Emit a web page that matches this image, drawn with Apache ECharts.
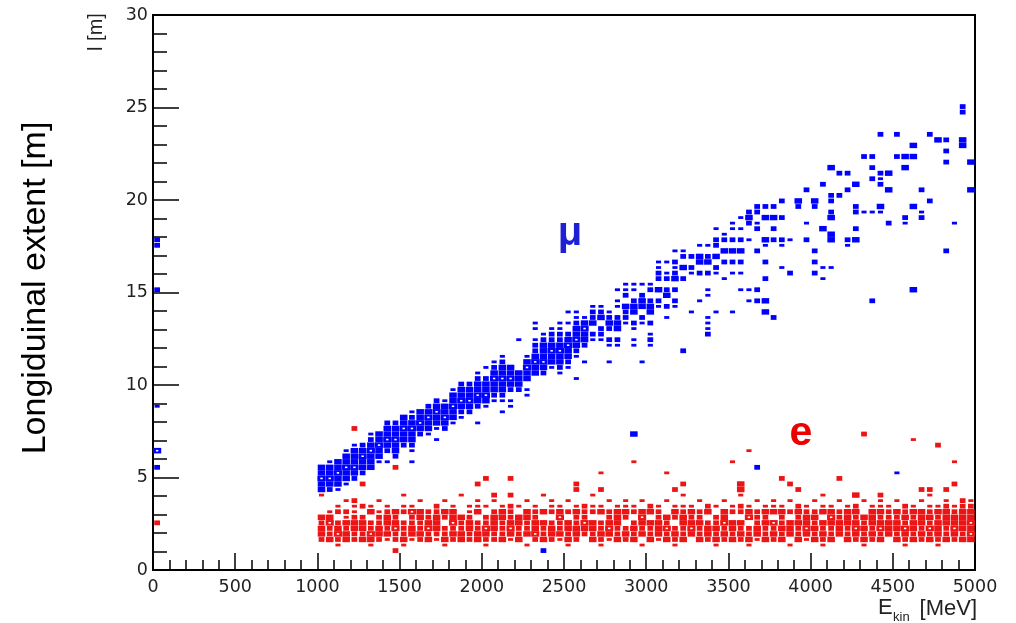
<!DOCTYPE html>
<html>
<head>
<meta charset="utf-8">
<script src="https://cdn.jsdelivr.net/npm/echarts@6/dist/echarts.min.js"></script>
<style>
  html, body { margin: 0; padding: 0; background: #fff; }
  #chart { width: 1016px; height: 623px; }
</style>
</head>
<body>
<div id="chart"></div>
<script>
// Histogram binning: 50 MeV in kinetic energy, 0.3 m in longitudinal extent
const E_BIN = 50;
const L_BIN = 0.3;

// Axis tick values
const energyTicks = [0, 500, 1000, 1500, 2000, 2500, 3000, 3500, 4000, 4500, 5000];
const lengthTicks = [0, 5, 10, 15, 20, 25, 30];

// Muon cells per energy column: [energy bin, first length bin, counts per length bin]
const muonColumns = [
  [20, 14, "33433"],
  [21, 14, "234331"],
  [22, 14, "133433"],
  [23, 15, "1334331"],
  [24, 16, "2343331"],
  [25, 17, "233432"],
  [26, 18, "3334321"],
  [27, 19, "133433"],
  [28, 19, "10234332"],
  [29, 20, "2334332"],
  [30, 22, "233433"],
  [31, 19, "1012334321"],
  [32, 24, "23433"],
  [33, 24, "133432"],
  [34, 23, "10133432"],
  [35, 25, "234331"],
  [36, 26, "1334331"],
  [37, 27, "1234332"],
  [38, 28, "234332"],
  [39, 26, "1002343321"],
  [40, 29, "13433201"],
  [41, 30, "12334321"],
  [42, 28, "10123343321"],
  [43, 29, "11023433"],
  [44, 32, "2333000001"],
  [45, 31, "11033431"],
  [46, 35, "3343221011"],
  [47, 35, "23433321"],
  [48, 36, "13343221"],
  [49, 35, "1233432211"],
  [50, 36, "12334320101"],
  [51, 34, "1000123433211"],
  [52, 37, "100233431"],
  [53, 41, "1203221"],
  [54, 41, "1220321"],
  [55, 37, "1001202321"],
  [56, 40, "12033201101"],
  [57, 44, "12230211"],
  [58, 40, "110120332011"],
  [59, 37, "100000012033201"],
  [60, 40, "121020332021"],
  [61, 47, "120302211"],
  [62, 45, "10203202101"],
  [63, 47, "12020321201"],
  [64, 52, "203021"],
  [65, 46, "10000001202"],
  [66, 48, "10000203301"],
  [67, 43, "1110001100203201"],
  [68, 46, "1000000120302201"],
  [69, 52, "100203021"],
  [70, 46, "10000001020302011"],
  [71, 50, "10010203020101"],
  [72, 48, "10100000000100232"]
];

// Isolated muon cells: [E (MeV), l (m), count]
const muonPoints = [
  [25, 17.9, 2], [25, 17.4, 2], [25, 15.0, 2], [25, 8.9, 1], [25, 6.4, 4], [25, 5.5, 2],
  [2925, 7.3, 3], [3675, 5.5, 2], [4515, 5.2, 1], [2385, 0.95, 2], [3225, 11.9, 2], [3370, 12.7, 2],
  [3670, 19.6, 2], [3670, 19.4, 2], [3670, 18.7, 1], [3670, 18.4, 2], [3670, 17.2, 2], [3670, 15.1, 2], [3670, 14.5, 2],
  [3720, 19.6, 2], [3720, 19.0, 3], [3720, 17.8, 3], [3720, 17.5, 1], [3720, 16.6, 2], [3720, 15.7, 2], [3720, 14.5, 3], [3720, 13.9, 3],
  [3770, 19.6, 2], [3770, 19.0, 3], [3770, 18.4, 2], [3770, 17.8, 2], [3770, 13.7, 2],
  [3820, 20.0, 2], [3820, 19.0, 2], [3820, 17.8, 2], [3820, 17.5, 1], [3820, 16.3, 1],
  [3870, 17.8, 1], [3870, 16.0, 2],
  [3920, 20.0, 3], [3920, 19.6, 2],
  [3965, 20.6, 2], [3965, 18.7, 1], [3965, 17.8, 2],
  [4025, 20.0, 3], [4025, 19.6, 2], [4025, 17.2, 2], [4025, 16.6, 2], [4025, 16.0, 2],
  [4070, 20.9, 2], [4070, 18.4, 3], [4070, 16.3, 1], [4070, 15.7, 1],
  [4115, 21.8, 3], [4115, 20.3, 2], [4115, 20.0, 2], [4115, 19.3, 2], [4115, 19.0, 3], [4115, 18.1, 3], [4115, 17.8, 3], [4115, 16.3, 1],
  [4165, 21.4, 2], [4165, 20.3, 2],
  [4215, 21.4, 2], [4215, 20.6, 2], [4215, 17.8, 2], [4215, 17.5, 1],
  [4270, 20.9, 3], [4270, 19.6, 2], [4270, 19.3, 2], [4270, 18.4, 2], [4270, 17.8, 3],
  [4320, 22.4, 2], [4320, 19.3, 1],
  [4370, 22.4, 2], [4370, 21.8, 2], [4370, 21.2, 2], [4370, 19.3, 1], [4370, 14.5, 2],
  [4420, 23.6, 2], [4420, 21.5, 2], [4420, 21.2, 1], [4420, 20.9, 2], [4420, 19.6, 3], [4420, 19.3, 1],
  [4470, 21.4, 3], [4470, 20.6, 3], [4470, 18.7, 2],
  [4520, 23.6, 2], [4520, 22.4, 2],
  [4570, 22.4, 3], [4570, 21.8, 3], [4570, 19.0, 2], [4570, 18.7, 1],
  [4620, 23.0, 3], [4620, 22.4, 3], [4620, 19.6, 3], [4620, 15.1, 3],
  [4665, 20.6, 2], [4665, 19.2, 1], [4665, 19.0, 2],
  [4720, 23.6, 2], [4720, 20.0, 2],
  [4765, 23.2, 3],
  [4815, 23.1, 2], [4815, 22.6, 2], [4815, 22.0, 2], [4815, 17.2, 2],
  [4865, 18.7, 1],
  [4918, 25.0, 2], [4918, 24.7, 2], [4918, 23.1, 3], [4918, 22.9, 3],
  [4965, 22.0, 3], [4965, 20.6, 3]
];

// Electron cells: one string per energy column from 1000 MeV, counts from l = 1.2 m upwards
const ELECTRON_FIRST_E_BIN = 20;
const ELECTRON_FIRST_L_BIN = 4;
const electronColumns = [
  "0233230001", "0322431000", "1243202100", "0332312010", "0223321100",
  "0323320200", "1342203100", "0233221010", "0132332100", "0224323000",
  "1322202101", "0133224100", "0232233010", "0324322000", "0123332200",
  "1322023010", "0232433100", "0332230001", "0223321100", "0332203110",
  "1234220100", "0223332010", "0322233100", "0134322200", "0322330100",
  "1032233010", "0243322100", "0322303001", "0233202110", "0132243100",
  "1323302010", "0233223100", "0023422200", "0323302101", "1232203100",
  "0134322010", "0322333100", "0232023110", "0323202100", "1032343010",
  "0322303200", "0133322100", "0324230010", "1232023100", "0322332101",
  "0034323100", "0322322010", "0233203200", "1323220100", "0232433010",
  "0323302100", "0232302201", "1322043100", "0133222010", "0322323100",
  "0232403110", "0323223100", "1033302010", "0322323200", "0134332100",
  "0323232010", "1232303101", "0322343100", "0033322010", "0322333100",
  "0234323200", "1323230010", "0232333100", "0324323110", "0033322100",
  "0323323010", "1234232200", "0323323100", "0232333010", "0324232101",
  "1233323100", "0322333210", "0234332100", "0323333200", "0343433210"
];

// Isolated electron cells: [E (MeV), l (m), count]
const electronPoints = [
  [25, 2.6, 2],
  [1220, 7.7, 2], [1485, 5.5, 2], [1275, 4.6, 2], [1200, 3.8, 2], [1485, 0.95, 2],
  [1980, 4.6, 2], [2030, 4.9, 2], [2185, 4.9, 2], [2185, 4.1, 2], [2080, 4.1, 2],
  [4310, 7.3, 2], [4620, 7.0, 1], [4775, 6.7, 2], [4865, 5.8, 1], [3610, 6.4, 1],
  [2920, 5.8, 1], [3520, 5.8, 1], [2725, 5.2, 1], [3120, 5.2, 1],
  [4165, 4.9, 2], [3820, 4.9, 2], [3870, 4.5, 2], [3920, 4.3, 2], [3175, 4.3, 2],
  [3225, 4.5, 2], [2570, 4.3, 2], [2570, 4.6, 2], [2725, 4.3, 2], [3575, 4.3, 3],
  [3575, 4.6, 3], [4865, 4.6, 2], [4665, 4.3, 2], [4720, 4.3, 2], [4815, 4.3, 2],
  [4260, 3.9, 3], [4420, 3.9, 2], [4905, 3.8, 2]
];

// Fill a 2D histogram from column strings and single cells; returns [E centre, l centre, count]
function histogram(columns, points) {
  const cells = new Map();
  const add = (i, j, n) => {
    const key = i + ':' + j;
    cells.set(key, Math.min(4, (cells.get(key) || 0) + n));
  };
  columns.forEach(([i, j0, counts]) => {
    for (let k = 0; k < counts.length; k++) {
      const n = +counts[k];
      if (n) add(i, j0 + k, n);
    }
  });
  points.forEach(([e, l, n]) => add(Math.floor(e / E_BIN), Math.floor(l / L_BIN + 1e-9), n));
  return Array.from(cells, ([key, n]) => {
    const [i, j] = key.split(':').map(Number);
    return [(i + 0.5) * E_BIN, (j + 0.5) * L_BIN, n];
  });
}

const muonCells = histogram(muonColumns, muonPoints);
const electronCells = histogram(
  electronColumns.map((s, k) => [ELECTRON_FIRST_E_BIN + k, ELECTRON_FIRST_L_BIN, s]),
  electronPoints
);

// Box size as a fraction of the cell, by bin content
const BOX_W = [0, 0.62, 0.7, 0.92, 1.0];
const BOX_H = [0, 0.5, 0.86, 0.98, 1.0];

function boxRenderer(color) {
  return function (params, api) {
    const n = api.value(2);
    const c = api.coord([api.value(0), api.value(1)]);
    const s = api.size([E_BIN, L_BIN]);
    const w = s[0] * BOX_W[n];
    const h = s[1] * BOX_H[n];
    const children = [{
      type: 'rect',
      shape: { x: c[0] - w / 2, y: c[1] - h / 2, width: w, height: h },
      style: { fill: color }
    }];
    if (n >= 4) {
      // the largest boxes are drawn as outlines, leaving a small open centre
      children.push({
        type: 'rect',
        shape: { x: c[0] - 1.2, y: c[1] - 0.8, width: 2.4, height: 1.6 },
        style: { fill: '#ffffff' }
      });
    }
    return { type: 'group', children };
  };
}

const tickFont = { color: '#222', fontFamily: 'DejaVu Sans', fontSize: 17.5 };

const chart = echarts.init(document.getElementById('chart'), null, { renderer: 'canvas' });
chart.setOption({
  animation: false,
  backgroundColor: '#ffffff',
  grid: {
    left: 153, right: 41, top: 15, bottom: 53,
    show: true, borderColor: '#000', borderWidth: 2, backgroundColor: 'transparent'
  },
  xAxis: {
    type: 'value',
    min: energyTicks[0],
    max: energyTicks[energyTicks.length - 1],
    interval: energyTicks[1] - energyTicks[0],
    axisLine: { show: true, onZero: false, lineStyle: { color: '#000', width: 2 } },
    axisTick: { show: true, inside: true, length: 17, lineStyle: { color: '#000', width: 1.5 } },
    minorTick: { show: true, splitNumber: 5, length: 10, lineStyle: { color: '#000', width: 1.5 } },
    axisLabel: Object.assign({ margin: 8, formatter: v => String(v) }, tickFont),
    splitLine: { show: false }
  },
  yAxis: {
    type: 'value',
    min: lengthTicks[0],
    max: lengthTicks[lengthTicks.length - 1],
    interval: lengthTicks[1] - lengthTicks[0],
    axisLine: { show: true, onZero: false, lineStyle: { color: '#000', width: 2 } },
    axisTick: { show: true, inside: true, length: 26, lineStyle: { color: '#000', width: 1.5 } },
    minorTick: { show: true, splitNumber: 5, length: 14, lineStyle: { color: '#000', width: 1.5 } },
    axisLabel: Object.assign({ margin: 5, formatter: v => String(v) }, tickFont),
    splitLine: { show: false }
  },
  series: [
    {
      name: 'μ',
      type: 'custom',
      coordinateSystem: 'cartesian2d',
      renderItem: boxRenderer('#0000ff'),
      encode: { x: 0, y: 1 },
      clip: true,
      data: muonCells
    },
    {
      name: 'e',
      type: 'custom',
      coordinateSystem: 'cartesian2d',
      renderItem: boxRenderer('#ec1515'),
      encode: { x: 0, y: 1 },
      clip: true,
      data: electronCells
    }
  ],
  graphic: [
    {
      type: 'text', x: 36, y: 288, rotation: Math.PI / 2,
      style: { text: 'Longiduinal extent [m]', font: '34px "Liberation Sans"', fill: '#000', align: 'center', verticalAlign: 'middle' }
    },
    {
      type: 'text', x: 96, y: 32, rotation: Math.PI / 2,
      style: { text: 'l [m]', font: '20px "Liberation Sans"', fill: '#222', align: 'center', verticalAlign: 'middle' }
    },
    {
      type: 'text', x: 878, y: 619,
      style: { text: 'E', font: '22px "Liberation Sans"', fill: '#222', align: 'left', verticalAlign: 'bottom' }
    },
    {
      type: 'text', x: 893, y: 624,
      style: { text: 'kin', font: '13px "Liberation Sans"', fill: '#222', align: 'left', verticalAlign: 'bottom' }
    },
    {
      type: 'text', x: 977, y: 620,
      style: { text: '[MeV]', font: '22px "Liberation Sans"', fill: '#222', align: 'right', verticalAlign: 'bottom' }
    },
    {
      type: 'text', x: 570, y: 234,
      style: { text: 'μ', font: 'bold 40px "Liberation Sans"', fill: '#1f1fd6', align: 'center', verticalAlign: 'middle' }
    },
    {
      type: 'text', x: 801, y: 434,
      style: { text: 'e', font: 'bold 41px "Liberation Sans"', fill: '#ee0000', align: 'center', verticalAlign: 'middle' }
    }
  ]
});
</script>
</body>
</html>
